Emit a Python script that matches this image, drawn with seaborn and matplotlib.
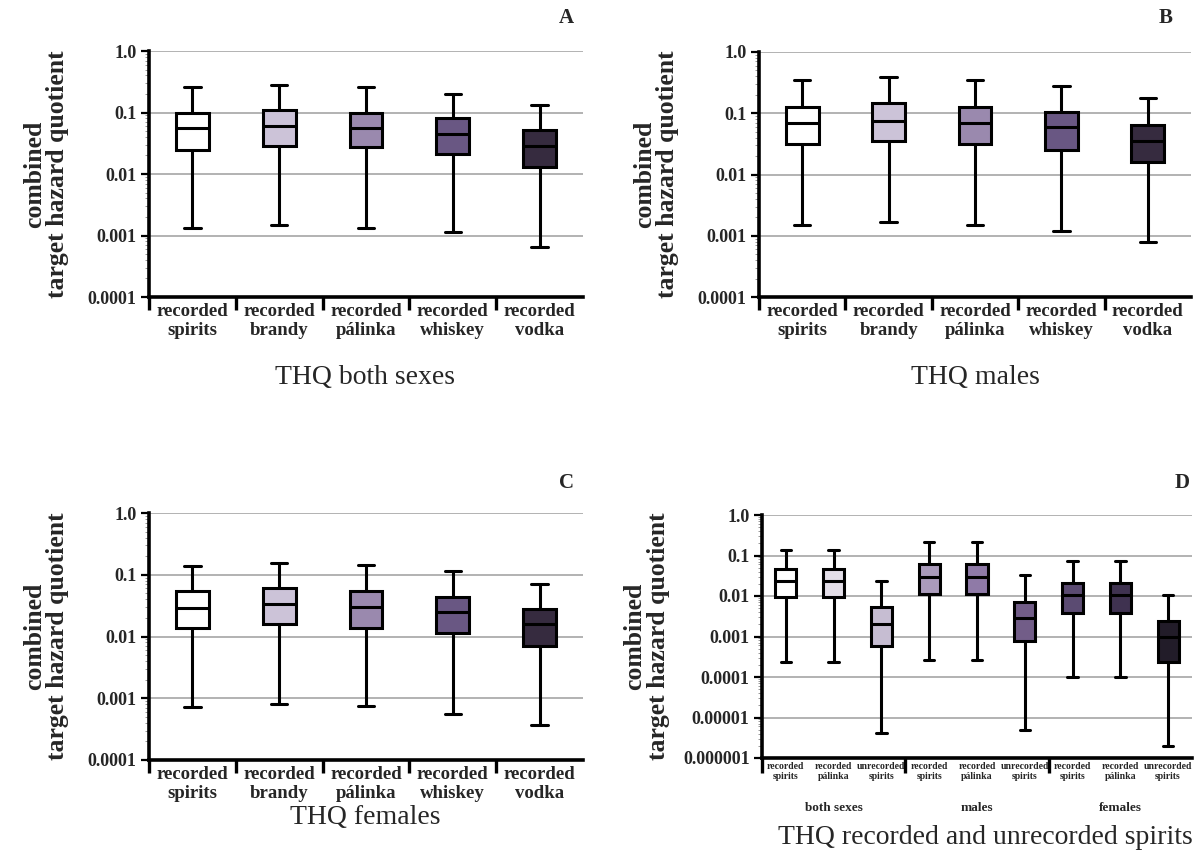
import numpy as np
import pandas as pd
import matplotlib
matplotlib.use("Agg")
import matplotlib.pyplot as plt
import seaborn as sns
from matplotlib.ticker import NullLocator, FixedLocator, LogLocator

sns.set_theme(style="white")
plt.rcParams['font.family'] = ['Liberation Serif', 'DejaVu Serif']

# ---------------- data ----------------
drink_labels = ["recorded\nspirits", "recorded\nbrandy", "recorded\npálinka",
                "recorded\nwhiskey", "recorded\nvodka"]
drink_colors = ["#ffffff", "#cbbfdb", "#9a83b4", "#68508a", "#372842"]

# Panel A: both sexes
A_min = [0.0013, 0.0015, 0.0013, 0.00115, 0.00066]
A_q1 = [0.025, 0.029, 0.027, 0.021, 0.013]
A_med = [0.055, 0.060, 0.057, 0.044, 0.029]
A_q3 = [0.100, 0.110, 0.100, 0.081, 0.051]
A_max = [0.26, 0.28, 0.26, 0.20, 0.13]

# Panel B: males
B_min = [0.0015, 0.00167, 0.0015, 0.00121, 0.00079]
B_q1 = [0.0315, 0.0356, 0.0315, 0.0254, 0.0162]
B_med = [0.070, 0.0757, 0.069, 0.059, 0.0356]
B_q3 = [0.125, 0.147, 0.126, 0.105, 0.065]
B_max = [0.35, 0.385, 0.35, 0.278, 0.18]

# Panel C: females
C_min = [0.00073, 0.00081, 0.00075, 0.00056, 0.00037]
C_q1 = [0.0138, 0.0161, 0.0138, 0.0115, 0.0070]
C_med = [0.0293, 0.034, 0.0297, 0.0246, 0.0157]
C_q3 = [0.054, 0.0607, 0.054, 0.0443, 0.0275]
C_max = [0.14, 0.157, 0.146, 0.115, 0.0705]

# Panel D: recorded vs unrecorded spirits
D_labels = ["recorded\nspirits", "recorded\npálinka", "unrecorded\nspirits"] * 3
D_groups = ["both sexes", "males", "females"]
D_colors = ["#ffffff", "#e3dcea", "#c6b9d6",
            "#a996c0", "#8f72ae", "#72568f",
            "#5a4578", "#3e2d55", "#221a2b"]
D_min = [0.00024, 0.00024, 0.0000041, 0.00026, 0.00026, 0.000005, 0.0001, 0.0001, 0.000002]
D_q1 = [0.0095, 0.0093, 0.00058, 0.011, 0.011, 0.00076, 0.0037, 0.0037, 0.00024]
D_med = [0.023, 0.023, 0.002, 0.030, 0.030, 0.0028, 0.0104, 0.0104, 0.00096]
D_q3 = [0.046, 0.046, 0.0054, 0.061, 0.061, 0.0071, 0.021, 0.021, 0.0024]
D_max = [0.14, 0.14, 0.023, 0.22, 0.22, 0.033, 0.075, 0.075, 0.0108]

ytick_text = {0: "1.0", -1: "0.1", -2: "0.01", -3: "0.001", -4: "0.0001",
              -5: "0.00001", -6: "0.000001"}


def draw_panel(ax, labels, mins, q1s, meds, q3s, maxs, colors, lo_exp,
               width, xlab_fs, bound_ticks):
    n = len(labels)
    ids = [f"c{i}" for i in range(n)]
    rows = []
    for i, cid in enumerate(ids):
        for v in (mins[i], q1s[i], meds[i], q3s[i], maxs[i]):
            rows.append((cid, v))
    df = pd.DataFrame(rows, columns=["cat", "val"])
    ax.set_yscale("log")
    sns.boxplot(data=df, x="cat", y="val", hue="cat", order=ids, hue_order=ids,
                palette=dict(zip(ids, colors)), whis=(0, 100), showfliers=False,
                width=width, linewidth=2.2, linecolor="black", legend=False,
                dodge=False, ax=ax)
    ax.set_xlim(-0.5, n - 0.5)
    ax.set_ylim(10.0 ** lo_exp, 1.0)
    exps = list(range(lo_exp, 1))
    ax.set_yticks([10.0 ** e for e in exps])
    ax.set_yticklabels([ytick_text[e] for e in exps], fontsize=13, fontweight="bold")
    ax.yaxis.set_minor_locator(LogLocator(base=10, subs=np.arange(2, 10)))
    ax.yaxis.set_minor_formatter(matplotlib.ticker.NullFormatter())
    ax.tick_params(axis="y", which="major", length=6, width=1.6, color="black",
                   direction="out", pad=3, left=True)
    ax.tick_params(axis="y", which="minor", length=3, width=0.6, color="#888888",
                   direction="out", left=True)
    ax.yaxis.grid(True, which="major", color="#a6a6a6", linewidth=1.2)
    ax.xaxis.grid(False)
    ax.set_axisbelow(True)

    ax.set_xticks(range(n))
    ax.set_xticklabels(labels, fontsize=xlab_fs, fontweight="bold", linespacing=1.15)
    ax.tick_params(axis="x", which="major", length=0, pad=4)
    ax.xaxis.set_minor_locator(FixedLocator(bound_ticks))
    ax.tick_params(axis="x", which="minor", length=9, width=2.4, color="black",
                   direction="out", bottom=True)
    for s in ("top", "right"):
        ax.spines[s].set_visible(False)
    for s in ("left", "bottom"):
        ax.spines[s].set_linewidth(2.6)
        ax.spines[s].set_color("black")
    ax.set_xlabel("")
    ax.set_ylabel("combined\ntarget hazard quotient", fontsize=18.5,
                  fontweight="bold", linespacing=1.0)
    ax.yaxis.set_label_coords(-0.185, 0.5)


W, H = 1197, 857
fig = plt.figure(figsize=(W / 100, H / 100), dpi=100)


def axes_px(left, top, right, bottom):
    return fig.add_axes([left / W, 1 - bottom / H, (right - left) / W, (bottom - top) / H])


axA = axes_px(149, 51, 583, 297)
axB = axes_px(759, 52, 1191, 297)
axC = axes_px(149, 513, 583, 760)
axD = axes_px(762, 515, 1192, 758)

bt5 = [-0.5, 0.5, 1.5, 2.5, 3.5]
draw_panel(axA, drink_labels, A_min, A_q1, A_med, A_q3, A_max, drink_colors, -4, 0.38, 13.5, bt5)
draw_panel(axB, drink_labels, B_min, B_q1, B_med, B_q3, B_max, drink_colors, -4, 0.38, 13.5, bt5)
draw_panel(axC, drink_labels, C_min, C_q1, C_med, C_q3, C_max, drink_colors, -4, 0.38, 13.5, bt5)
draw_panel(axD, D_labels, D_min, D_q1, D_med, D_q3, D_max, D_colors, -6, 0.44, 7, [-0.5, 2.5, 5.5])
axD.tick_params(axis="x", which="minor", length=11)
axD.tick_params(axis="x", which="major", pad=3)
axD.yaxis.set_label_coords(-0.215, 0.5)

# group labels in panel D
for g, name in enumerate(D_groups):
    fig.text((762 + (3 * g + 1.5) * (430 / 9)) / W, 1 - 808 / H, name,
             ha="center", va="center", fontsize=9.5, fontweight="bold")

# titles
fig.text(365 / W, 1 - 378 / H, "THQ both sexes", ha="center", va="center", fontsize=20)
fig.text(975 / W, 1 - 378 / H, "THQ males", ha="center", va="center", fontsize=20)
fig.text(365 / W, 1 - 818 / H, "THQ females", ha="center", va="center", fontsize=20)
fig.text(985 / W, 1 - 838 / H, "THQ recorded and unrecorded spirits", ha="center",
         va="center", fontsize=20)

# panel letters
for (x, y, t) in [(566, 18, "A"), (1166, 18, "B"), (566, 483, "C"), (1182, 483, "D")]:
    fig.text(x / W, 1 - y / H, t, ha="center", va="center", fontsize=15, fontweight="bold")

fig.savefig("out.png", dpi=100, facecolor="white")
